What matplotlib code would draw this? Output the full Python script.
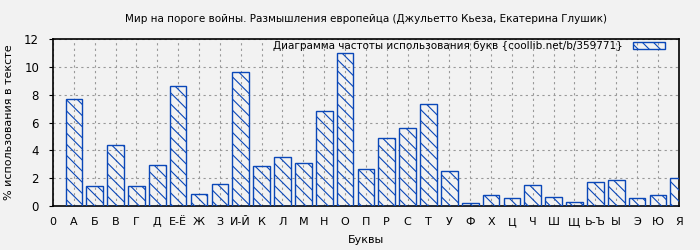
import matplotlib
matplotlib.use('Agg')
import matplotlib.pyplot as plt

# letters and their share in the text (%)
letters = ['0', 'А', 'Б', 'В', 'Г', 'Д', 'Е-Ё', 'Ж', 'З', 'И-Й', 'К', 'Л', 'М', 'Н', 'О', 'П',
           'Р', 'С', 'Т', 'У', 'Ф', 'Х', 'Ц', 'Ч', 'Ш', 'Щ', 'Ь-Ъ', 'Ы', 'Э', 'Ю', 'Я']
values = [7.68, 1.42, 4.37, 1.42, 2.93, 8.62, 0.84, 1.56, 9.62, 2.86, 3.50, 3.07, 6.82, 10.99,
          2.64, 4.87, 5.59, 7.32, 2.50, 0.19, 0.77, 0.55, 1.49, 0.62, 0.26, 1.70, 1.85, 0.55,
          0.77, 1.99]
yticks = [0, 2, 4, 6, 8, 10, 12]

bg = '#f2f2f2'
blue = '#0a47b8'
plt.rcParams['hatch.linewidth'] = 0.8

fig = plt.figure(figsize=(7, 2.5), dpi=100, facecolor=bg)
ax = fig.add_axes([0.0757, 0.176, 0.894, 0.668], facecolor=bg)

pos = list(range(1, len(values) + 1))
ax.bar(pos, values, width=0.8, facecolor='none', edgecolor=blue, hatch='\\' * 3,
       linewidth=1.0, label='Диаграмма частоты использования букв {coollib.net/b/359771}', zorder=3)

ax.set_xlim(0, 30)
ax.set_ylim(0, 12)
ax.set_xticks(range(len(letters)))
ax.set_xticklabels(letters, fontsize=8)
ax.set_yticks(yticks)
ax.tick_params(axis='y', labelsize=8.5, length=3, pad=7)
ax.tick_params(axis='x', length=0, pad=8)
ax.grid(True, linestyle=(0, (2, 3)), color='#999999', linewidth=0.8, zorder=0)
for s in ax.spines.values():
    s.set_linewidth(1.2)

ax.set_title('Мир на пороге войны. Размышления европейца (Джульетто Кьеза, Екатерина Глушик)',
             fontsize=7.5, pad=12)
ax.set_xlabel('Буквы', fontsize=8, labelpad=6)
ax.set_ylabel('% использования в тексте', fontsize=8, labelpad=7)

ax.legend(loc='upper right', bbox_to_anchor=(1 - 12 / 626, 1.0), frameon=False, fontsize=7.5,
          markerfirst=False, handlelength=3.0, handleheight=0.6, handletextpad=1.0,
          borderaxespad=0.0, borderpad=0.2)

fig.savefig('out.png', dpi=100, facecolor=bg)
